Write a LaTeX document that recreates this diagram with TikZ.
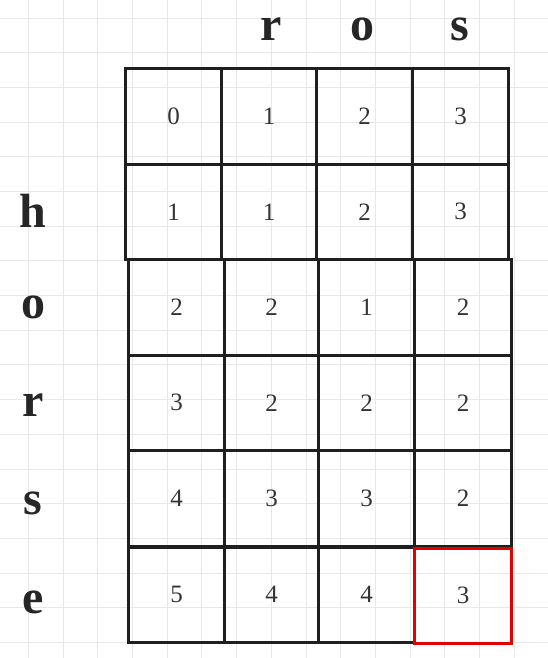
\documentclass[tikz,border=0pt]{standalone}
\usepackage{fontspec}
\setmainfont{Liberation Serif}
\begin{document}
\begin{tikzpicture}[x=1pt,y=-1pt,
  cellbox/.style={draw=black!88,line width=3pt,minimum width=#1,minimum height=95.5pt,inner sep=0pt,anchor=north west,
    font=\fontsize{25}{25}\selectfont,text=black!80},
  hotbox/.style={draw=red!90!black,line width=3pt,minimum width=97pt,minimum height=95pt,inner sep=0pt,anchor=north west,
    font=\fontsize{25}{25}\selectfont,text=black!80},
  letter/.style={font=\fontsize{48}{48}\selectfont\bfseries,text=black!85,inner sep=0pt},
  bggrid/.style={draw=black!9,line width=1.6pt}]
\useasboundingbox (0,0) rectangle (548,658);
\fill[white] (0,0) rectangle (548,658);
% background grid
\foreach \i in {0,...,15} {\pgfmathsetmacro\gx{round(28+34.7*\i)+0.5}\draw[bggrid] (\gx,0) -- (\gx,658);}
\foreach \j in {0,...,18} {\pgfmathsetmacro\gy{round(17.5+34.7*\j)+0.5}\draw[bggrid] (0,\gy) -- (548,\gy);}
% top labels
\node[letter,anchor=base] (cr) at (271,41) {r};
\node[letter,anchor=base] (co) at (362,41) {o};
\node[letter,anchor=base] (cs) at (460,41) {s};
% left labels
\node[letter,anchor=base] (rh) at (33,227) {h};
\node[letter,anchor=base] (ro) at (33,318) {o};
\node[letter,anchor=base] (rr) at (33,416) {r};
\node[letter,anchor=base] (rs) at (33,514) {s};
\node[letter,anchor=base] (re) at (33,613) {e};
% rows 1-2
\node[cellbox=96pt] (a00) at (124,67) {0};
\node[cellbox=95pt] (a01) at (220,67) {1};
\node[cellbox=96pt] (a02) at (315,67) {2};
\node[cellbox=96pt] (a03) at (411,67) {3};
\node[cellbox=96pt] (a10) at (124,162.5) {1};
\node[cellbox=95pt] (a11) at (220,162.5) {1};
\node[cellbox=96pt] (a12) at (315,162.5) {2};
\node[cellbox=96pt] (a13) at (411,162.5) {3};
% rows 3-6
\node[cellbox=96pt] (a20) at (127,258) {2};
\node[cellbox=94pt] (a21) at (223,258) {2};
\node[cellbox=96pt] (a22) at (317,258) {1};
\node[cellbox=97pt] (a23) at (413,258) {2};
\node[cellbox=96pt] (a30) at (127,353.5) {3};
\node[cellbox=94pt] (a31) at (223,353.5) {2};
\node[cellbox=96pt] (a32) at (317,353.5) {2};
\node[cellbox=97pt] (a33) at (413,353.5) {2};
\node[cellbox=96pt] (a40) at (127,449) {4};
\node[cellbox=94pt] (a41) at (223,449) {3};
\node[cellbox=96pt] (a42) at (317,449) {3};
\node[cellbox=97pt] (a43) at (413,449) {2};
\node[cellbox=96pt] (a50) at (127,545.5) {5};
\node[cellbox=94pt] (a51) at (223,545.5) {4};
\node[cellbox=96pt] (a52) at (317,545.5) {4};
\node[hotbox] (a53) at (413,546.5) {3};
\end{tikzpicture}
\end{document}
